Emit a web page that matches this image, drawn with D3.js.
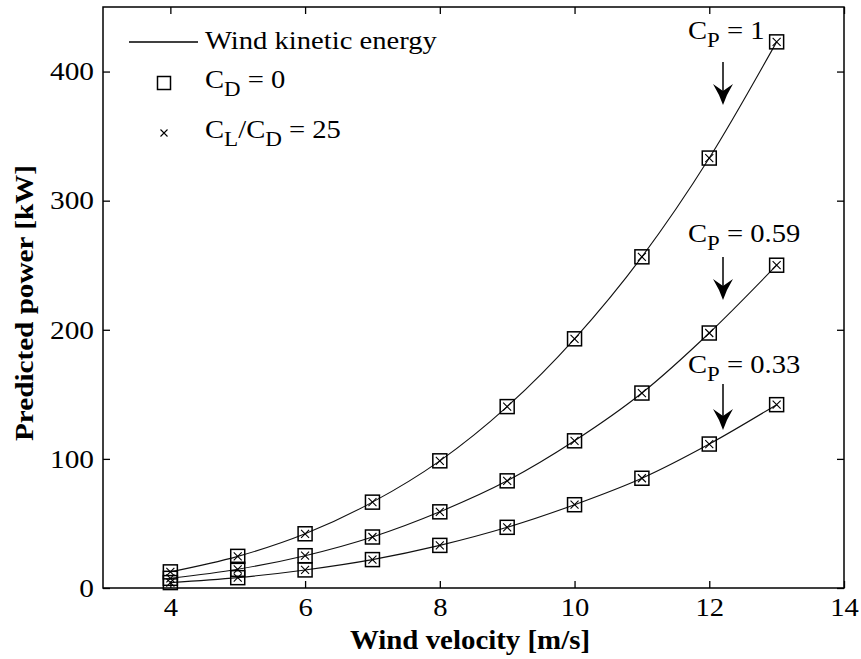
<!DOCTYPE html>
<html>
<head>
<meta charset="utf-8">
<script src="https://cdn.jsdelivr.net/npm/d3@7"></script>
<style>
  html, body { margin: 0; padding: 0; background: #fff; }
  svg { display: block; }
  text { font-family: "Liberation Serif", "Times New Roman", serif; fill: #000; }
</style>
</head>
<body>
<svg id="chart" width="861" height="659"></svg>
<script>
// Wind velocity [m/s]
const velocity = [4, 5, 6, 7, 8, 9, 10, 11, 12, 13];
// Predicted power [kW] for each power coefficient
const powerCp100 = [12.5, 24.5, 42, 66.5, 98.5, 140.5, 193, 256.5, 333, 423];
const powerCp059 = [7.5, 14.5, 25, 39.5, 59, 83, 114, 151, 197.5, 250];
const powerCp033 = [4.2, 8, 14, 22, 33, 47, 64.5, 85, 111.5, 142];
const cpLabels = ["1", "0.59", "0.33"];
const xTicks = [4, 6, 8, 10, 12, 14];
const yTicks = [0, 100, 200, 300, 400];

const svg = d3.select("#chart");
const x = d3.scaleLinear().domain([3, 14]).range([103, 844]);
const y = d3.scaleLinear().domain([0, 450]).range([588, 7]);
const WIDEN = 1.1;

function widen(sel, k) {
  sel.each(function () {
    const t = d3.select(this);
    const tx = +t.attr("x") || 0, ty = +t.attr("y") || 0;
    t.attr("transform", `translate(${tx},${ty}) scale(${k},1) translate(${-tx},${-ty})`);
  });
}

// Axes with inward ticks on all four sides
const gx = svg.append("g").attr("transform", `translate(0,${y(0)})`)
  .call(d3.axisBottom(x).tickValues(xTicks).tickSizeInner(-7).tickSizeOuter(0).tickPadding(10));
const gy = svg.append("g").attr("transform", `translate(${x(3)},0)`)
  .call(d3.axisLeft(y).tickValues(yTicks).tickSizeInner(-7).tickSizeOuter(0).tickPadding(9));
const gt = svg.append("g").attr("transform", `translate(0,${y(450)})`)
  .call(d3.axisTop(x).tickValues(xTicks).tickSizeInner(-7).tickSizeOuter(0).tickFormat(""));
const gr = svg.append("g").attr("transform", `translate(${x(14)},0)`)
  .call(d3.axisRight(y).tickValues(yTicks).tickSizeInner(-7).tickSizeOuter(0).tickFormat(""));

[gx, gy, gt, gr].forEach(g => {
  g.select(".domain").remove();
  g.selectAll(".tick line").attr("stroke", "#000").attr("stroke-width", 1.3);
  g.selectAll(".tick text").attr("font-size", 26).attr("fill", "#000")
    .style("font-family", '"Liberation Serif", serif');
});
widen(gx.selectAll(".tick text"), WIDEN);
widen(gy.selectAll(".tick text"), 1.13);

// Plot frame
svg.append("rect")
  .attr("x", x(3)).attr("y", y(450))
  .attr("width", x(14) - x(3)).attr("height", y(0) - y(450))
  .attr("fill", "none").attr("stroke", "#000").attr("stroke-width", 1.5);

// Curves
const line = d3.line().x((d, i) => x(velocity[i])).y(d => y(d)).curve(d3.curveMonotoneX);
const seriesList = [powerCp100, powerCp059, powerCp033];
seriesList.forEach(s => {
  svg.append("path").datum(s).attr("d", line)
    .attr("fill", "none").attr("stroke", "#111").attr("stroke-width", 1.1);
});

// Markers: open squares (C_D = 0) with crosses (C_L/C_D = 25)
function square(g, cx, cy, size) {
  g.append("rect").attr("x", cx - size / 2).attr("y", cy - size / 2)
    .attr("width", size).attr("height", size)
    .attr("fill", "none").attr("stroke", "#000").attr("stroke-width", 1.5);
}
function cross(g, cx, cy, r) {
  g.append("path")
    .attr("d", `M${cx - r},${cy - r}L${cx + r},${cy + r}M${cx - r},${cy + r}L${cx + r},${cy - r}`)
    .attr("stroke", "#000").attr("stroke-width", 1.1).attr("fill", "none");
}
const markers = svg.append("g");
seriesList.forEach(s => {
  s.forEach((v, i) => {
    square(markers, x(velocity[i]), y(v), 14);
    cross(markers, x(velocity[i]), y(v), 4);
  });
});

// Legend
const leg = svg.append("g");
leg.append("line").attr("x1", 129).attr("x2", 198).attr("y1", 42).attr("y2", 42)
  .attr("stroke", "#000").attr("stroke-width", 1.3);
square(leg, 164, 83, 13);
cross(leg, 164, 133, 3.5);

function subText(g, xx, yy, main, sub, rest, size) {
  const t = g.append("text").attr("x", xx).attr("y", yy).attr("font-size", size);
  t.append("tspan").text(main);
  t.append("tspan").attr("dy", size * 0.3).attr("font-size", size * 0.8).text(sub);
  t.append("tspan").attr("dy", -size * 0.3).text(rest);
  return t;
}

leg.append("text").attr("x", 205).attr("y", 49).attr("font-size", 26).text("Wind kinetic energy");
subText(leg, 205, 88, "C", "D", " = 0", 26);
const lt3 = leg.append("text").attr("x", 205).attr("y", 138).attr("font-size", 26);
lt3.append("tspan").text("C");
lt3.append("tspan").attr("dy", 8).attr("font-size", 21).text("L");
lt3.append("tspan").attr("dy", -8).text("/C");
lt3.append("tspan").attr("dy", 8).attr("font-size", 21).text("D");
lt3.append("tspan").attr("dy", -8).text(" = 25");
widen(leg.selectAll("text"), WIDEN);

// Power coefficient annotations with arrows
const notes = [
  { label: cpLabels[0], ty: 39, top: 62, tip: 105 },
  { label: cpLabels[1], ty: 242, top: 257, tip: 300 },
  { label: cpLabels[2], ty: 373, top: 384, tip: 430 }
];
const ann = svg.append("g");
notes.forEach(n => {
  subText(ann, 688, n.ty, "C", "P", " = " + n.label, 26);
  ann.append("line").attr("x1", 723).attr("x2", 723).attr("y1", n.top).attr("y2", n.tip - 12)
    .attr("stroke", "#000").attr("stroke-width", 1.5);
  ann.append("path")
    .attr("transform", `translate(723,${n.tip})`)
    .attr("d", "M0,0L-4,-10L-10,-21L0,-14L10,-21L4,-10Z")
    .attr("fill", "#000");
});
widen(ann.selectAll("text"), WIDEN);

// Axis titles
svg.append("text").attr("x", 470).attr("y", 649).attr("text-anchor", "middle")
  .attr("font-size", 27).attr("font-weight", "bold").text("Wind velocity [m/s]")
  .call(widen, 1.07);
svg.append("text").attr("transform", "translate(33,303) rotate(-90)")
  .attr("text-anchor", "middle").attr("font-size", 25).attr("font-weight", "bold")
  .attr("textLength", 276).attr("lengthAdjust", "spacingAndGlyphs")
  .text("Predicted power [kW]");
</script>
</body>
</html>
